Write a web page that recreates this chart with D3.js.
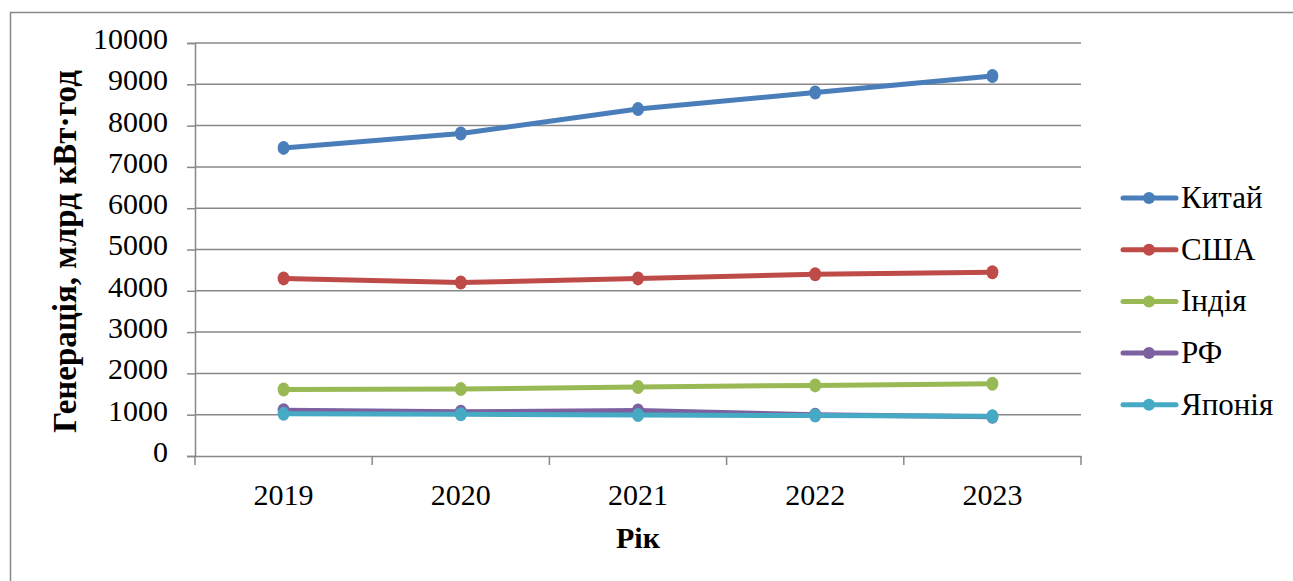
<!DOCTYPE html>
<html>
<head>
<meta charset="utf-8">
<script src="https://cdn.jsdelivr.net/npm/d3@7"></script>
<style>
  html, body { margin: 0; padding: 0; background: #fff; }
  svg { display: block; }
  svg text { font-family: "Times New Roman", "Liberation Serif", "DejaVu Serif", serif !important; fill: #000; }
</style>
</head>
<body>
<svg id="chart" width="1293" height="581"></svg>
<script>
// Electricity generation by country, bn kWh
const years = ["2019", "2020", "2021", "2022", "2023"];
const seriesNames = ["Китай", "США", "Індія", "РФ", "Японія"];
const china = [7460, 7810, 8400, 8800, 9200];
const usa = [4300, 4200, 4300, 4400, 4450];
const india = [1610, 1620, 1670, 1710, 1750];
const russia = [1110, 1070, 1100, 1000, 950];
const japan = [1020, 1010, 990, 980, 960];
const yTicks = [0, 1000, 2000, 3000, 4000, 5000, 6000, 7000, 8000, 9000, 10000];
const colors = ["#4A7EBB", "#BE4B48", "#98B954", "#7D60A0", "#46AAC5"];

const seriesValues = [china, usa, india, russia, japan];

const svg = d3.select("#chart");
const plot = { left: 195, right: 1081, top: 43, bottom: 456 };

// outer chart frame
svg.append("rect")
  .attr("x", 10.5).attr("y", 12.5)
  .attr("width", 1300).attr("height", 600)
  .attr("fill", "none").attr("stroke", "#888").attr("stroke-width", 1.5);

const x = d3.scaleBand().domain(years).range([plot.left, plot.right]);
const y = d3.scaleLinear().domain([0, 10000]).range([plot.bottom, plot.top]);

// horizontal gridlines
svg.append("g").selectAll("line").data(yTicks.slice(1)).join("line")
  .attr("x1", plot.left).attr("x2", plot.right)
  .attr("y1", d => y(d)).attr("y2", d => y(d))
  .attr("stroke", "#888").attr("stroke-width", 1.5);

// y axis
const yAxis = svg.append("g")
  .attr("transform", `translate(${plot.left},0)`)
  .call(d3.axisLeft(y).tickValues(yTicks).tickSize(8).tickPadding(19).tickFormat(d3.format("d")));
yAxis.select(".domain").attr("stroke", "#888").attr("stroke-width", 1.5);
yAxis.selectAll(".tick line").attr("stroke", "#888").attr("stroke-width", 1.5);
yAxis.selectAll("text").attr("font-size", 30).attr("dy", "0.18em");

// x axis with ticks between categories
const xAxis = svg.append("g")
  .attr("transform", `translate(0,${plot.bottom})`)
  .call(d3.axisBottom(x).tickSize(0).tickPadding(26));
xAxis.select(".domain").attr("stroke", "#888").attr("stroke-width", 1.5);
xAxis.selectAll("text").attr("font-size", 30).attr("dy", null).attr("y", 49);
const boundaries = years.map(d => x(d)).concat([x(years[years.length - 1]) + x.bandwidth()]);
xAxis.selectAll(".bnd").data(boundaries).join("line")
  .attr("x1", d => d).attr("x2", d => d)
  .attr("y1", 0).attr("y2", 9)
  .attr("stroke", "#888").attr("stroke-width", 1.5);

// axis titles
svg.append("text")
  .attr("x", x(years[2]) + x.bandwidth() / 2).attr("y", 548)
  .attr("text-anchor", "middle").attr("font-size", 30).attr("font-weight", "bold")
  .text("Рік");
svg.append("text")
  .attr("transform", `translate(76,251.5) rotate(-90)`)
  .attr("text-anchor", "middle").attr("font-size", 33).attr("font-weight", "bold")
  .text("Генерація, млрд кВт·год");

// series lines and markers
const line = d3.line()
  .x((d, i) => x(years[i]) + x.bandwidth() / 2)
  .y(d => y(d));

seriesValues.forEach((vals, s) => {
  const g = svg.append("g");
  g.append("path").datum(vals)
    .attr("d", line)
    .attr("fill", "none").attr("stroke", colors[s])
    .attr("stroke-width", 5).attr("stroke-linejoin", "round");
  g.selectAll("ellipse").data(vals).join("ellipse")
    .attr("cx", (d, i) => x(years[i]) + x.bandwidth() / 2)
    .attr("cy", d => y(d))
    .attr("rx", 6).attr("ry", 7)
    .attr("fill", colors[s]);
});

// legend
const legend = svg.append("g");
seriesNames.forEach((name, i) => {
  const ly = 198 + i * 51.7;
  legend.append("line")
    .attr("x1", 1123).attr("x2", 1176).attr("y1", ly).attr("y2", ly)
    .attr("stroke", colors[i]).attr("stroke-width", 5).attr("stroke-linecap", "round");
  legend.append("circle")
    .attr("cx", 1149).attr("cy", ly).attr("r", 6)
    .attr("fill", colors[i]);
  legend.append("text")
    .attr("x", 1181).attr("y", ly + 10)
    .attr("font-size", 31)
    .text(name);
});
</script>
</body>
</html>
